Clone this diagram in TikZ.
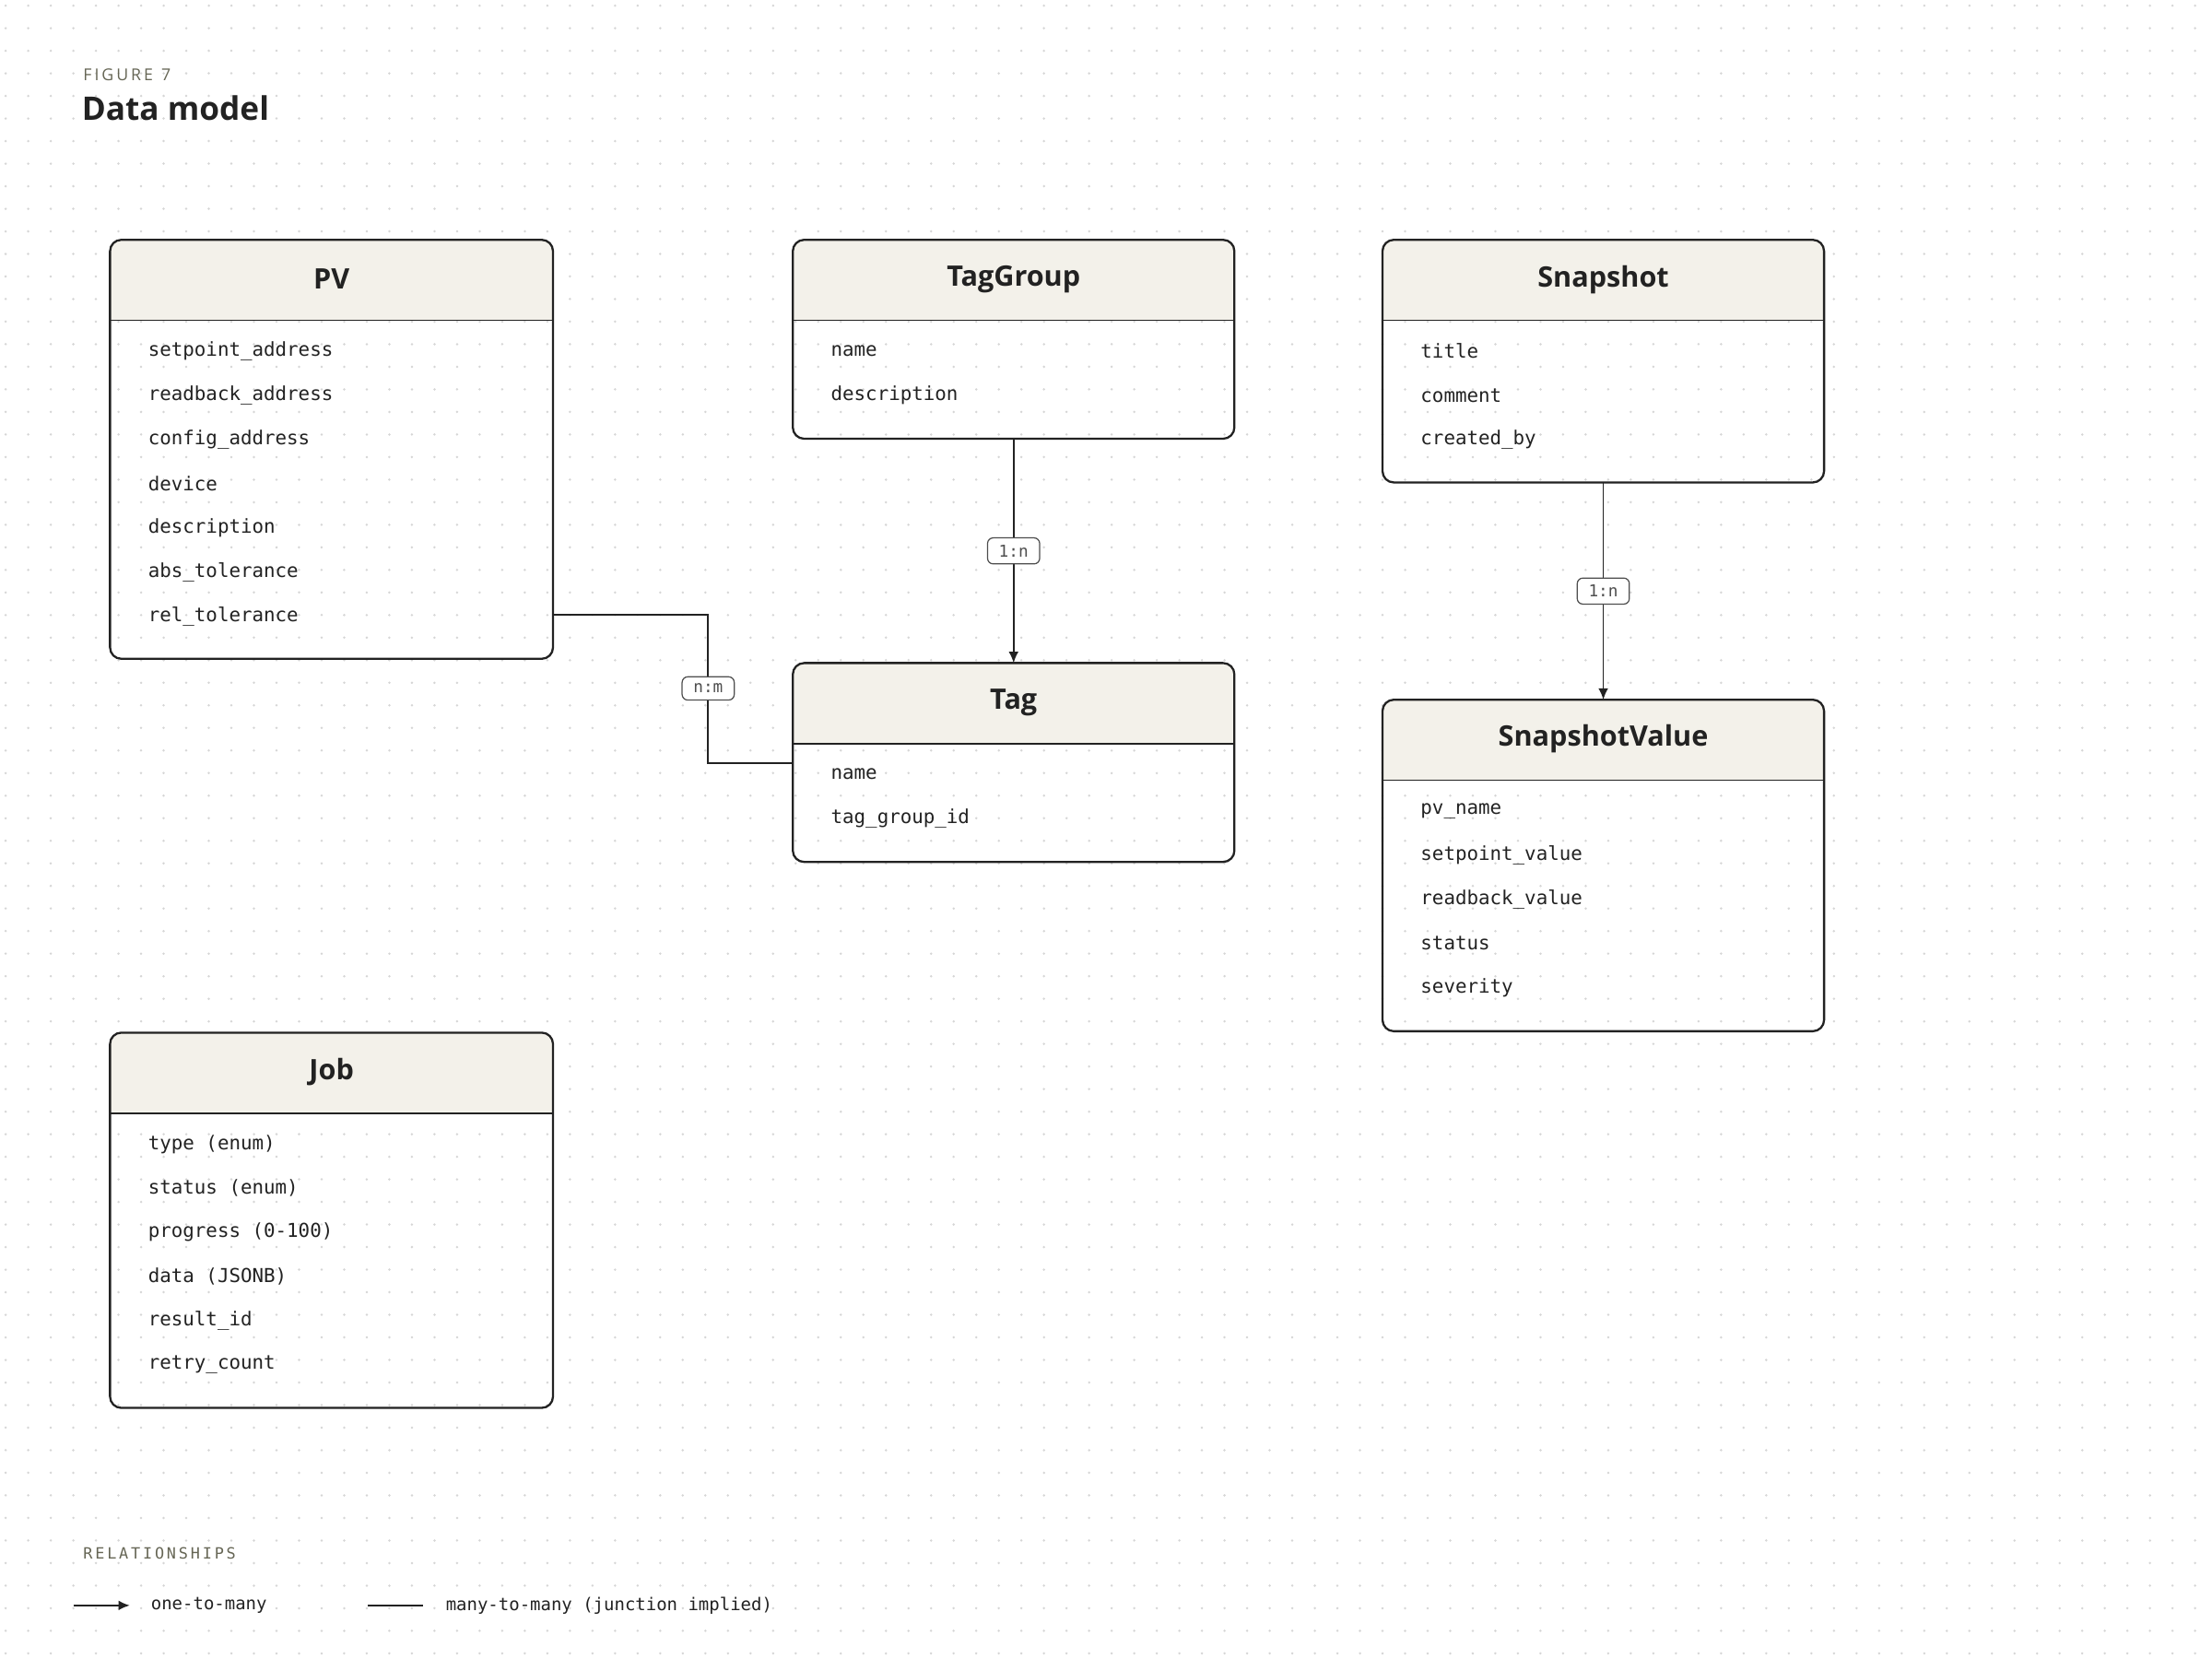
\documentclass[tikz,border=0pt]{standalone}
\usepackage{fontspec}
\setmainfont{Open Sans}
\setmonofont{DejaVu Sans Mono}
\usetikzlibrary{arrows.meta}
\definecolor{ink}{HTML}{222222}
\definecolor{hdr}{HTML}{F3F1EA}
\definecolor{dotc}{HTML}{D6D6D6}
\definecolor{mute}{HTML}{666655}
\tikzset{
  px/.style={x=0.5pt,y=-0.5pt},
  ent/.style={draw=ink,line width=0.75pt,rounded corners=4pt},
  ttl/.style={font=\fontsize{10}{12}\selectfont\bfseries,text=ink,anchor=center},
  fld/.style={font=\ttfamily\fontsize{6.8}{8}\selectfont,text=ink,anchor=west},
  rel/.style={draw=ink,line width=0.6pt},
  one/.style={rel,-{Latex[length=4pt,width=3.5pt]}},
  pill/.style={draw=ink!80,fill=white,line width=0.4pt,rounded corners=2pt,font=\ttfamily\fontsize{5.8}{7}\selectfont,text=ink!80,inner xsep=4pt,inner ysep=2.5pt},
}
\newcommand{\entity}[6]{% name, x1, y1, x2, y2, title ; fields via #6 list
}
\begin{document}
\begin{tikzpicture}[px]
\useasboundingbox (0,0) rectangle (1568,1176);
\fill[white] (0,0) rectangle (1568,1176);
\foreach \i in {0,...,97}{\foreach \j in {0,...,73}{\fill[dotc] (\i*16+4,\j*16+4) circle (0.45pt);}}
\node[anchor=base west,font=\fontsize{5.8}{7}\selectfont,text=mute] (fig) at (52,57) {F\,I\,G\,U\,R\,E\ \ 7};
\node[anchor=base west,font=\fontsize{11.5}{14}\selectfont\bfseries,text=ink] (title) at (51,85) {Data model};
% entity macro-like drawing
\newcommand{\ent}[7]{% id,x1,y1,x2,y2,title,fields
  \fill[hdr,rounded corners=4pt] (#2,#3) rectangle (#4,#3+57);
  \fill[hdr] (#2,#3+20) rectangle (#4,#3+57);
  \draw[ink,line width=0.6pt] (#2,#3+57) -- (#4,#3+57);
  \draw[ent] (#2,#3) rectangle (#4,#5);
  \coordinate (#1) at ({(#2+#4)/2},{(#3+#5)/2});
  \coordinate (#1-n) at ({(#2+#4)/2},#3);
  \coordinate (#1-s) at ({(#2+#4)/2},#5);
  \node[ttl] (#1-t) at ({(#2+#4)/2},#3+28) {#6};
  \foreach \f [count=\k] in {#7}{\node[fld] (#1-f\k) at (#2+20,#3+79+31.3*\k-31.3) {\f};}
}
\ent{pv}{78}{170}{392}{467}{PV}{setpoint\_address,readback\_address,config\_address,device,description,abs\_tolerance,rel\_tolerance}
\ent{tg}{562}{170}{875}{311}{TagGroup}{name,description}
\ent{sn}{980}{170}{1293}{342}{Snapshot}{title,comment,created\_by}
\ent{tag}{562}{470}{875}{611}{Tag}{name,tag\_group\_id}
\ent{sv}{980}{496}{1293}{731}{SnapshotValue}{pv\_name,setpoint\_value,readback\_value,status,severity}
\ent{job}{78}{732}{392}{998}{Job}{type (enum),status (enum),progress (0-100),data (JSONB),result\_id,retry\_count}
\coordinate (pvr) at (392,436);
\coordinate (tagl) at (562,541);
\draw[one] (tg-s) -- (tag-n) node[pill,pos=0.5] (l1) {1:n};
\draw[one] (sn-s) -- (sv-n) node[pill,pos=0.5] (l2) {1:n};
\draw[rel] (pvr) -- (502,436) -- (502,541) -- (tagl);
\node[pill] (l3) at (502,488) {n:m};
% legend
\node[anchor=base west,font=\ttfamily\fontsize{5.5}{7}\selectfont,text=mute] (leg) at (52,1105) {R\,E\,L\,A\,T\,I\,O\,N\,S\,H\,I\,P\,S};
\coordinate (a1) at (52,1138); \coordinate (a2) at (92,1138);
\draw[one] (a1) -- (a2);
\node[anchor=west,font=\ttfamily\fontsize{6.2}{7}\selectfont,text=ink] (lg1) at (100,1138) {one-to-many};
\coordinate (b1) at (261,1138); \coordinate (b2) at (300,1138);
\draw[rel] (b1) -- (b2);
\node[anchor=west,font=\ttfamily\fontsize{6.2}{7}\selectfont,text=ink] (lg2) at (309,1138) {many-to-many (junction implied)};
\end{tikzpicture}
\end{document}
